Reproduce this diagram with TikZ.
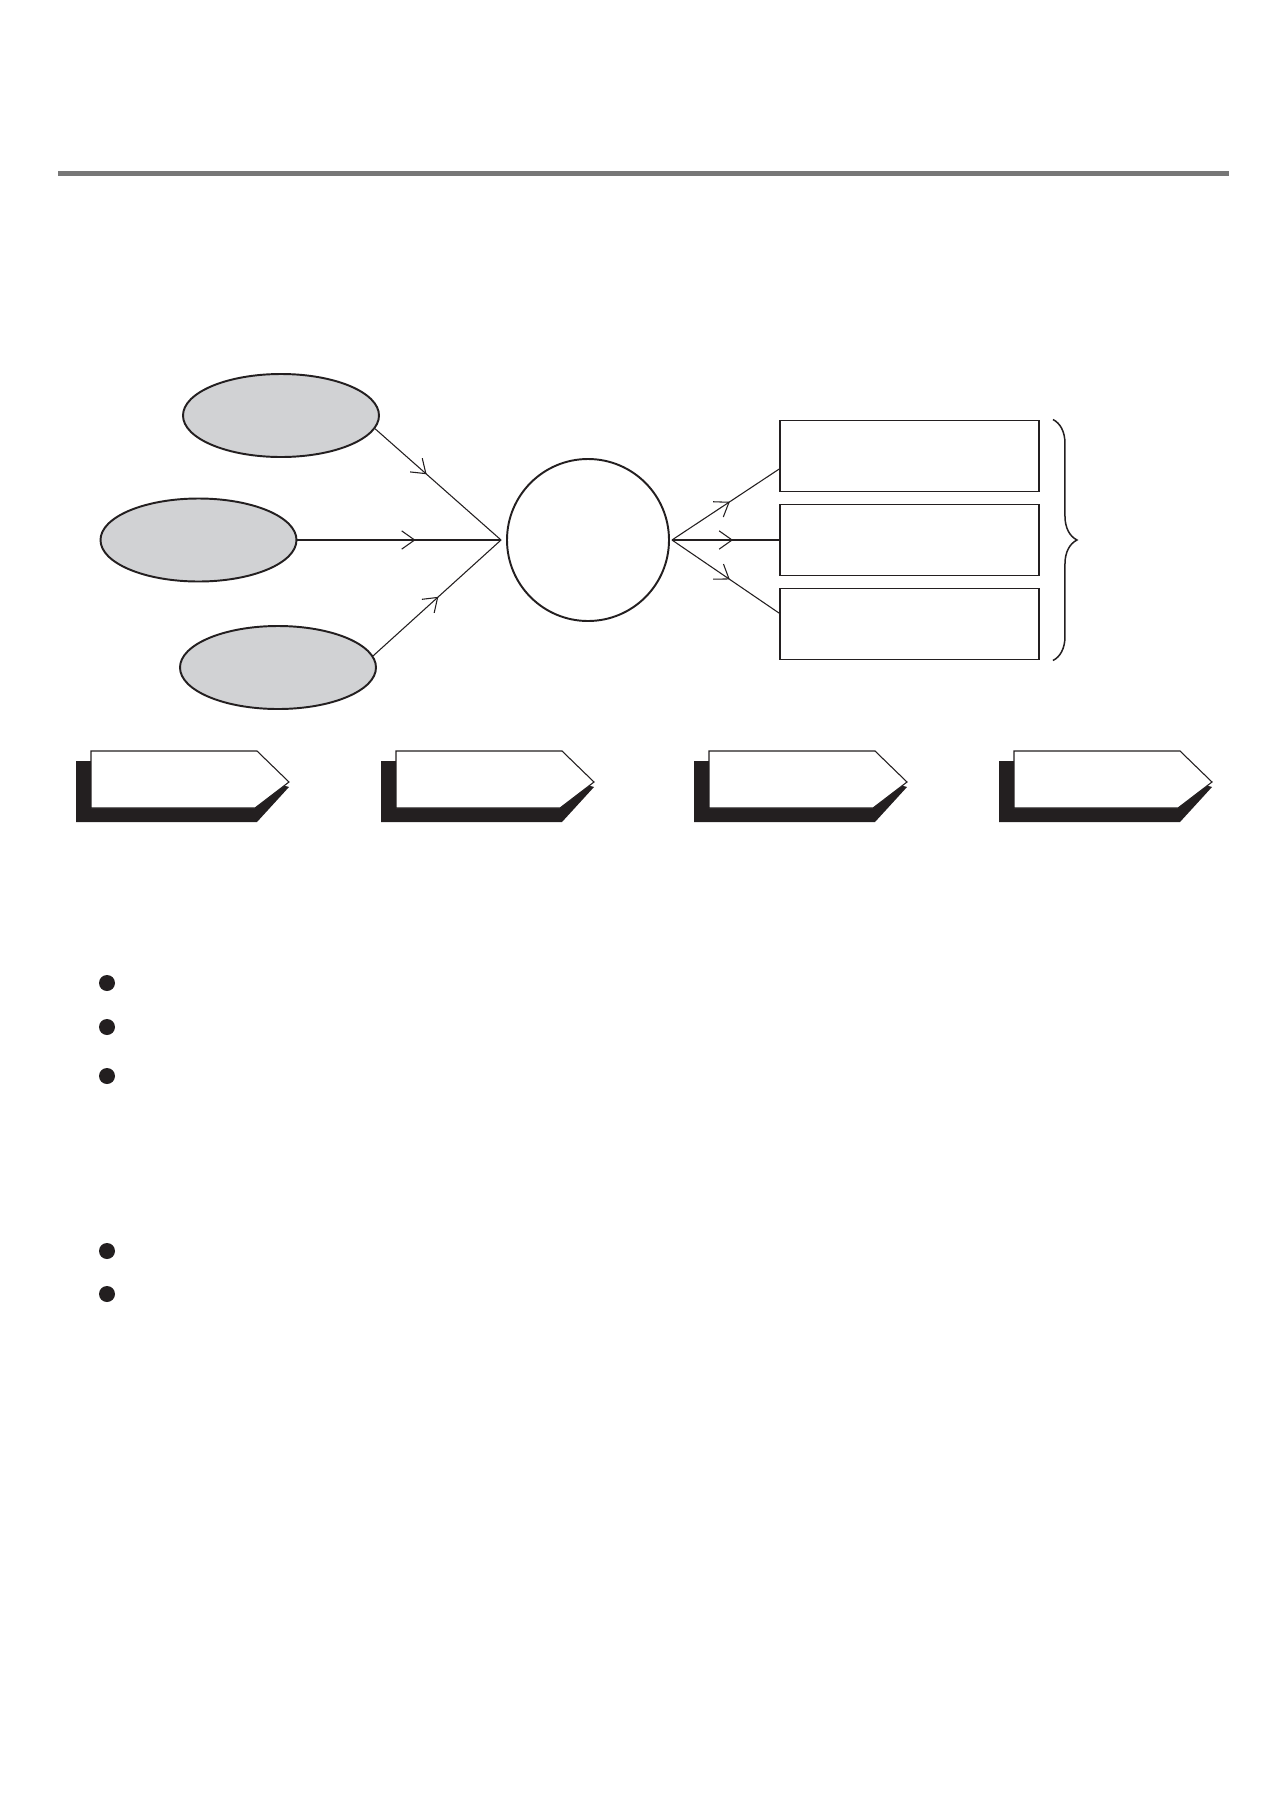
\documentclass[tikz,border=0pt]{standalone}
\usetikzlibrary{shapes.geometric,arrows.meta,decorations.markings,decorations.pathreplacing,calc}
\definecolor{ink}{HTML}{231F20}
\definecolor{ovalgray}{HTML}{D1D2D4}
\definecolor{rulegray}{HTML}{777777}
\newdimen\px \px=0.01633cm
\begin{document}
\begin{tikzpicture}[x=\px, y=-\px, node distance=84\px, ink,
  oval/.style = {draw, ellipse, fill=ovalgray, line width=0.9pt, minimum width=196\px, minimum height=83\px, inner sep=0pt},
  hub/.style = {draw, circle, line width=0.9pt, minimum size=162\px, inner sep=0pt},
  slot/.style = {draw, rectangle, line width=0.9pt, minimum width=259\px, minimum height=71\px, inner sep=0pt},
  link/.style = {line width=0.5pt},
  arr/.style = {link, postaction={decorate}, decoration={markings, mark=at position #1 with {\arrow{Straight Barb[length=6pt,width=8.5pt,line width=0.5pt]}}}},
  dot/.style = {fill, circle, inner sep=0pt, minimum size=16\px}]
\useasboundingbox (0,0) rectangle (1286,1819);

\draw[rulegray, line width=4.5\px] (58,173.5) -- (1229,173.5);

\node[hub] (c) at (588,540) {};
\coordinate (cin) at ([xshift=-5\px]c.west);
\coordinate (cout) at ([xshift=2\px]c.east);

\node[oval] (e1) at (281,415.5) {};
\node[oval] (e2) at (198.5,540) {};
\node[oval] (e3) at (278,667.5) {};

\node[slot] (r2) at (909.5,540) {};
\node[slot] (r1) [above of=r2] {};
\node[slot] (r3) [below of=r2] {};

\draw[arr=0.41] (e1.-8) -- (cin);
\draw[arr=0.58] (e2) -- (cin);
\draw[arr=0.51] (e3.7) -- (cin);

\draw[arr=0.54] (cout) -- ($(r1.south west)!0.32!(r1.north west)$);
\draw[arr=0.57] (cout) -- (r2.west);
\draw[arr=0.54] (cout) -- ($(r3.south west)!0.65!(r3.north west)$);

\draw[line width=0.7pt, decorate, decoration={brace, amplitude=24\px}] ([xshift=13\px]r1.north east) -- ([xshift=13\px]r3.south east);

% step arrows with shadow
\foreach \x in {91,396,709,1014} {
  \fill (\x-15,761) -- (\x+110,761) -- (\x+198,787) -- (\x+166,822) -- (\x-15,822) -- cycle;
  \draw[link, fill=white] (\x,751) -- (\x+166,751) -- (\x+198,782) -- (\x+164,808) -- (\x,808) -- cycle;
}

\foreach \y in {983,1027,1076,1251,1294}
  \node[dot] (dot\y) at (107,\y) {};
\end{tikzpicture}
\end{document}
